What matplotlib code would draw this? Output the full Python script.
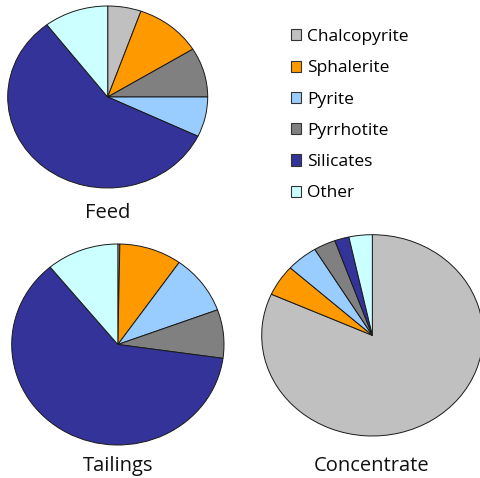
import matplotlib
matplotlib.use("Agg")
import matplotlib.pyplot as plt
from matplotlib.patches import Patch

# minerals and their colours
minerals = ["Chalcopyrite", "Sphalerite", "Pyrite", "Pyrrhotite", "Silicates", "Other"]
colors = ["#C0C0C0", "#FF9900", "#99CCFF", "#808080", "#333399", "#CCFFFF"]

# mass fractions (%) per stream, same order as minerals
feed = [5.4, 10.8, 7.1, 8.8, 57.5, 10.4]
tailings = [0.3, 9.5, 9.6, 7.8, 61.8, 11.0]
concentrate = [81.7, 5.0, 4.6, 3.2, 2.1, 3.4]

# order in which the wedges are drawn (clockwise from 12 o'clock)
feed_order = [0, 1, 3, 2, 4, 5]
default_order = [0, 1, 2, 3, 4, 5]

W, H = 480, 478
fig = plt.figure(figsize=(W / 100, H / 100), dpi=100)
fig.patch.set_facecolor("white")


def box(x0, x1, y0, y1):
    # pixel box (image coords) -> figure fraction
    return [x0 / W, 1 - y1 / H, (x1 - x0) / W, (y1 - y0) / H]


def draw_pie(rect, values, order, title, tx, ty):
    ax = fig.add_axes(rect)
    vals = [values[i] for i in order]
    cols = [colors[i] for i in order]
    wedges, _ = ax.pie(vals, colors=cols, startangle=90, counterclock=False,
                       wedgeprops=dict(edgecolor="#1a1a1a", linewidth=0.7))
    for w in wedges:
        w.set_clip_on(False)
    ax.set_aspect("auto")
    ax.set_xlim(-1, 1)
    ax.set_ylim(-1, 1)
    ax.axis("off")
    fig.text(tx / W, 1 - ty / H, title, ha="center", va="center",
             fontsize=14.5, family="Open Sans", color="#111111")


draw_pie(box(7.7, 207.7, 6, 188), feed, feed_order, "Feed", 108, 213)
draw_pie(box(11.7, 224, 244, 445), tailings, default_order, "Tailings", 118, 466)
draw_pie(box(261.7, 483, 234.7, 436), concentrate, default_order, "Concentrate", 372, 466)

handles = [Patch(facecolor=c, edgecolor="#333333", linewidth=0.8) for c in colors]
fig.legend(handles, minerals, loc="upper left", bbox_to_anchor=(291 / W, 1 - 29 / H),
           frameon=False, handlelength=0.6, handleheight=0.6, handletextpad=0.35,
           labelspacing=0.88, borderpad=0, borderaxespad=0,
           prop=dict(family="Open Sans", size=12.5))

fig.savefig("out.png", dpi=100, facecolor="white")
